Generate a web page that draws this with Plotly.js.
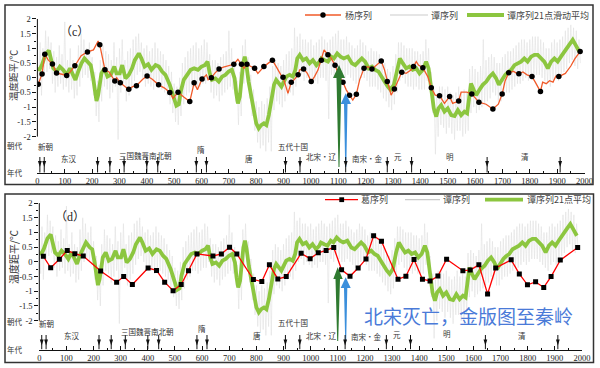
<!DOCTYPE html>
<html><head><meta charset="utf-8">
<script src="https://cdn.plot.ly/plotly-3.0.1.min.js"></script>
<style>html,body{margin:0;padding:0;background:#fff}#chart{width:600px;height:368px}</style>
</head><body><div id="chart"></div>
<script>
// ---------- data ----------
const yangLineX = [3,17,27,40,55,70,90,107,120,137,160,183,205,222,228,247,262,272,283,290,303,320,334,348,362,385,401,420,443,465,484,496,514,535,557,573,585,602,618,624,636,648,664,680,718,733,746,755,766,794,806,818,828,843,859,873,890,898,910,916,928,938,953,959,973,987,1001,1013,1026,1038,1048,1062,1074,1088,1101,1117,1129,1141,1153,1166,1178,1194,1208,1223,1238,1257,1269,1279,1293,1305,1319,1332,1348,1367,1375,1385,1393,1409,1427,1440,1454,1470,1488,1507,1518,1540,1549,1570,1588,1614,1640,1665,1685,1699,1710,1723,1740,1752,1760,1775,1790,1808,1820,1839,1847,1860,1872,1885,1895,1906,1930,1950,1965,1984];
const yangLineY = [-0.22,0.13,0.8,0.6,0.47,0.16,0.12,0.08,0.2,0.41,0.75,0.88,0.95,1.25,1.12,0.27,0.2,0.05,-0.11,0.0,-0.17,-0.3,-0.39,-0.3,-0.27,-0.05,0.06,-0.05,-0.24,-0.35,-0.5,-0.7,-0.49,-0.65,-0.81,-0.17,-0.41,-0.04,0.1,-0.07,0.0,0.15,0.3,0.36,0.46,0.63,0.46,0.32,0.46,0.32,0.15,0.27,0.38,0.49,0.6,0.38,0.1,0.02,-0.3,-0.53,-0.15,-0.07,0.1,0.27,0.3,0.15,-0.13,0.04,0.27,0.6,0.95,0.78,0.66,0.43,0.1,-0.15,-0.41,-0.59,-0.76,-0.56,-0.07,0.32,0.38,0.3,0.43,0.57,0.27,-0.13,-0.59,-0.38,-0.07,0.19,0.15,0.27,0.38,0.55,0.43,0.34,0.04,-0.34,-0.59,-0.61,-0.87,-0.64,-0.87,-0.79,-0.49,-0.49,-0.55,-0.83,-0.9,-1.06,-0.9,-0.55,-0.1,0.17,0.22,0.15,0.14,0.2,0.1,0.04,-0.15,-0.47,-0.15,-0.2,-0.1,-0.15,0.05,0.04,0.15,0.4,0.65,0.89];
const yangX = [3,17,27,55,70,107,137,183,228,247,283,303,334,362,401,443,484,514,557,573,602,636,664,718,746,766,794,828,859,898,928,953,973,1001,1038,1062,1088,1117,1141,1166,1194,1223,1257,1279,1305,1332,1375,1409,1440,1470,1507,1540,1588,1614,1665,1699,1723,1760,1808,1839,1906,1984];
const yangY = [-0.22,0.13,0.8,0.47,0.16,0.08,0.41,0.88,1.12,0.27,-0.11,-0.17,-0.39,-0.27,0.06,-0.24,-0.5,-0.49,-0.81,-0.17,-0.04,0.0,0.3,0.46,0.46,0.46,0.32,0.38,0.6,0.02,-0.15,0.1,0.3,-0.13,0.6,0.78,0.43,-0.15,-0.59,-0.56,0.32,0.3,0.57,-0.13,-0.38,0.19,0.38,0.34,-0.34,-0.61,-0.64,-0.79,-0.55,-0.83,-1.06,-0.55,0.17,0.14,0.04,-0.47,0.04,0.89];
const geX = [15,42,74,103,131,162,226,285,311,343,401,432,462,493,523,550,581,640,671,701,728,789,820,848,879,910,965,998,1028,1057,1085,1114,1145,1175,1204,1232,1261,1322,1351,1381,1412,1440,1469,1501,1561,1588,1620,1652,1682,1739,1769,1799,1829,1859,1886,1920,1984];
const geY = [0.19,-0.2,0.09,0.39,0.28,0.2,-0.31,-0.69,-0.5,-0.77,-0.21,-0.29,-0.69,-0.98,-0.77,-0.3,0.27,0.2,0.27,0.5,0.27,-0.6,-0.67,-0.1,-0.58,-0.5,0.29,0.11,0.31,0.39,0.49,-0.27,-0.49,-0.21,0.1,0.89,0.7,-0.59,-0.49,0.08,-0.59,-0.65,-0.48,0.09,-0.3,-0.28,-0.1,-1.09,-0.21,0.07,-0.41,-0.78,-0.68,-0.87,-0.5,0.06,0.49];
const smoothX = [0,8,17,30,42,50,58,70,82,94,107,119,131,139,149,161,172,186,195,204,210,216,222,228,234,245,256,268,281,289,301,310,322,334,346,356,371,380,392,405,417,432,444,456,468,484,496,508,517,524,535,548,560,573,587,600,612,622,630,638,651,663,675,687,699,711,721,727,733,740,746,752,758,764,772,782,792,800,809,818,828,837,846,855,865,873,882,892,901,910,922,934,943,950,959,971,983,995,1007,1020,1032,1038,1050,1062,1074,1084,1096,1108,1120,1135,1150,1162,1174,1186,1198,1211,1223,1235,1247,1257,1269,1281,1291,1303,1315,1325,1336,1348,1360,1372,1385,1397,1409,1421,1430,1440,1449,1458,1466,1476,1488,1500,1513,1525,1537,1549,1561,1571,1579,1585,1595,1604,1616,1628,1641,1653,1665,1677,1687,1698,1710,1720,1732,1744,1756,1768,1780,1792,1805,1817,1829,1841,1853,1866,1878,1890,1902,1914,1926,1936,1944,1957,1965,1975,1981];
const smoothY = [0.3,0.28,0.45,0.8,0.93,0.65,0.32,0.21,0.38,0.27,0.1,0.32,0.04,-0.07,0.21,0.49,0.66,0.49,0.43,-0.02,-0.53,-0.79,-0.59,-0.13,0.15,0.32,0.04,0.1,0.38,0.15,0.15,0.43,-0.02,0.1,0.32,0.6,0.83,0.66,0.38,0.46,0.27,0.43,0.38,0.21,0.1,-0.24,-0.64,-0.95,-0.9,-0.47,-0.07,0.1,0.27,0.32,0.27,0.38,0.43,0.55,0.15,-0.07,-0.02,-0.13,0.04,0.1,0.21,0.27,-0.02,-0.53,-0.87,-0.64,-0.07,0.49,0.72,0.43,-0.13,-0.64,-1.15,-1.55,-1.72,-1.61,-1.55,-1.61,-1.27,-0.7,-0.24,-0.07,-0.19,-0.3,-0.13,0.04,0.1,0.04,0.27,0.66,0.78,0.6,0.66,0.49,0.6,0.43,0.55,0.66,0.6,0.55,0.72,0.66,0.83,0.72,0.66,0.72,0.49,0.43,0.55,0.66,0.55,0.32,0.38,0.27,0.21,0.04,-0.13,-0.3,-0.41,-0.24,0.32,0.66,0.49,0.32,0.38,0.27,0.32,0.15,0.27,0.55,0.32,-0.47,-1.04,-1.32,-1.04,-0.93,-1.15,-1.04,-1.27,-1.3,-1.1,-1.27,-1.15,-1.21,-0.59,-0.19,-0.41,-0.59,-0.41,-0.24,-0.13,0.04,0.15,-0.02,-0.24,-0.07,0.1,0.19,0.27,0.43,0.49,0.55,0.66,0.55,0.72,0.78,0.78,0.66,0.55,0.32,0.55,0.66,0.55,0.72,0.89,1.06,1.12,1.29,1.17,1.0,0.89];
// Tan series, one value every 5 years from year 0
const tanStart = 0, tanStep = 5;
const tanY = [
0.8,-0.4,1.2,-0.6,1.0,0.1,1.6,0.2,1.4,0.3,
1.2,-0.2,0.9,-0.5,0.7,-0.3,1.1,-0.2,0.8,-0.4,
1.9,-0.3,0.6,-0.5,1.0,-0.4,0.6,-0.7,0.5,-0.6,
1.1,-0.3,1.5,0.0,1.3,0.1,1.0,0.0,1.2,-0.1,
0.7,-0.6,0.2,-1.3,-0.1,-1.5,0.6,-0.8,1.1,-0.3,
0.9,-0.4,0.8,-0.7,0.6,-0.5,1.2,-0.3,0.7,-2.1,
1.0,-0.5,1.3,-0.2,0.6,-0.8,0.9,-0.6,1.0,-0.4,
1.3,-0.1,1.4,0.1,1.5,0.2,1.2,0.0,1.0,-0.3,
1.1,-0.2,0.9,-0.3,1.0,-0.4,1.2,-0.2,1.0,-0.3,
0.9,-0.4,0.8,-0.5,0.6,-0.6,0.4,-0.9,0.2,-1.2,
-0.2,-1.5,-0.3,-1.6,0.0,-1.3,0.5,-0.9,0.7,-0.6,
0.9,-0.5,1.0,-0.3,1.1,-0.3,1.2,-0.4,1.0,-0.3,
1.1,-0.2,1.3,-0.2,1.2,0.0,0.8,-0.5,0.6,-0.7,
0.6,-0.6,0.5,-0.8,0.7,-0.6,0.8,-0.5,0.9,-0.4,
1.6,-0.3,1.0,-0.4,0.5,-0.8,-0.1,-1.6,0.2,-1.3,
1.1,-0.2,1.3,0.0,0.7,-0.7,0.1,-1.3,-0.4,-1.8,
-0.8,-2.2,-1.0,-2.4,-0.8,-2.3,-0.9,-2.5,-0.7,-2.2,
-0.3,-2.5,0.4,-1.1,0.6,-0.8,0.5,-0.9,0.4,-1.0,
0.6,-0.8,0.8,-0.6,0.9,-0.5,1.0,-0.6,1.7,-0.3,
1.4,0.0,1.5,0.1,1.3,-0.1,1.3,0.0,1.2,-0.1,
1.3,-0.2,1.1,-0.1,1.2,-0.2,1.3,0.0,1.4,0.0,
1.3,-0.1,1.2,-1.4,1.3,0.1,1.4,0.0,1.5,0.2,
1.6,0.1,1.3,0.0,1.3,0.0,1.4,0.1,1.2,0.0,
1.1,-0.1,1.0,-0.2,1.1,-0.1,1.3,0.0,1.2,0.0,
1.1,-0.1,0.9,-0.3,1.0,-0.3,0.9,-0.3,0.9,-0.4,
0.8,-0.5,0.6,-0.7,0.5,-0.8,0.3,-1.0,0.2,-1.1,
0.4,-0.9,0.8,-0.5,1.2,-0.1,1.2,0.0,1.1,-0.2,
1.0,-0.3,1.0,-0.3,1.0,-0.4,0.9,-0.3,0.9,-0.4,
0.8,-0.4,0.9,-0.4,1.3,-0.1,1.0,-0.4,0.2,-1.2,
-0.4,-2.6,-0.6,-2.0,-0.3,-1.6,-0.3,-1.7,-0.4,-1.9,
-0.3,-1.7,-0.5,-1.9,-0.6,-2.1,-0.5,-1.8,-0.3,-1.8,
-0.5,-2.0,-0.4,-1.9,-0.5,-1.8,0.3,-1.2,0.4,-1.0,
0.3,-1.2,0.2,-1.1,0.4,-1.0,1.3,-0.9,0.6,-0.8,
0.7,-0.7,0.8,-0.5,0.7,-0.6,0.5,-0.8,0.5,-0.8,
0.7,-0.6,0.8,-0.5,0.9,-0.5,0.9,-0.4,1.0,-0.3,
1.1,-0.2,1.2,-0.2,1.3,-0.1,1.3,0.0,1.2,-0.1,
1.3,0.0,1.4,0.1,1.4,0.1,1.4,0.1,1.3,0.0,
1.2,-0.1,1.0,-0.2,1.0,-0.3,1.2,-0.1,1.3,0.0,
1.2,-0.1,1.3,0.0,1.4,0.2,1.6,0.3,1.7,0.5,
1.8,0.6,1.7,0.4,1.6,0.3,1.3,0.5];
const tanX = tanY.map((_, i) => tanStart + i * tanStep);

const boundaryYears = [9,25,220,265,317,400,440,581,618,907,960,1127,1279,1368,1644,1911];
const dynastyNames = ['新朝','东汉','三国魏晋南北朝','隋','唐','五代十国','北宋·辽','南宋·金','元','明','清'];
const yearTicks = [0,100,200,300,400,500,600,700,800,900,1000,1100,1200,1300,1400,1500,1600,1700,1800,1900,2000];
const yearMinor = [50,150,250,350,450,550,650,750,850,950,1050,1150,1250,1350,1450,1550,1650,1750,1850,1950];
const tempTicks = [-2,-1.5,-1,-0.5,0,0.5,1,1.5,2];
const tempTickText = ['-2','-1.5','-1','-0.5','0','0.5','1','1.5','2'];
const tempMinor = [-1.75,-1.25,-0.75,-0.25,0.25,0.75,1.25,1.75];

// ---------- layout helpers ----------
const W = 600, H = 368;
const px = v => v / W, py = v => 1 - v / H;
const CJK = 'Noto Sans CJK SC';
const SERIF = 'Liberation Serif';

function xAxis(l, r, pos) {
  return {domain:[px(l), px(r)], range:[0,2000], anchor:'free', position:py(pos),
    showline:true, linecolor:'#111', linewidth:1, ticks:'inside', ticklen:4, tickwidth:1, tickcolor:'#111',
    tickmode:'array', tickvals:yearTicks, ticktext:yearTicks.map(String),
    tickfont:{family:SERIF, size:8.5, color:'#222'},
    minor:{tickmode:'array', tickvals:yearMinor, ticks:'inside', ticklen:2, tickwidth:1, tickcolor:'#111'},
    showgrid:false, zeroline:false, fixedrange:true};
}
function yAxis(top, bot, xa) {
  return {domain:[py(bot), py(top)], range:[-2.8,2.2], anchor:xa, showline:false,
    ticks:'outside', ticklen:4, tickwidth:1, tickcolor:'#111',
    tickmode:'array', tickvals:tempTicks, ticktext:tempTickText,
    tickfont:{family:SERIF, size:8.5, color:'#222'},
    minor:{tickmode:'array', tickvals:tempMinor, ticks:'outside', ticklen:2, tickwidth:1, tickcolor:'#111'},
    showgrid:false, zeroline:false, fixedrange:true};
}
function T(text, x, y, size, opt) {
  return Object.assign({text:text, xref:'paper', yref:'paper', x:px(x), y:py(y), xanchor:'center', yanchor:'middle',
    showarrow:false, font:{family:CJK, size:size||7.5, color:'#333'}}, opt||{});
}
function L(x0,y0,x1,y1,color,width) {
  return {type:'line', xref:'paper', yref:'paper', x0:px(x0), y0:py(y0), x1:px(x1), y1:py(y1), line:{color:color, width:width}};
}
function P(pts, color) {
  const d = pts.map((p,i)=>(i?'L':'M')+px(p[0]).toFixed(5)+','+py(p[1]).toFixed(5)).join(' ')+' Z';
  return {type:'path', xref:'paper', yref:'paper', path:d, fillcolor:color, line:{width:0}};
}
function dynArrows(xref, y0, yHead, yTip, y1) {
  const out = [];
  boundaryYears.forEach(yr => {
    out.push({type:'line', xref:xref, yref:'paper', x0:yr, x1:yr, y0:py(y0), y1:py(y1), line:{color:'#111', width:1}});
    out.push({type:'path', xref:xref, yref:'paper', path:`M ${yr-7},${py(yHead)} L ${yr+7},${py(yHead)} L ${yr},${py(yTip)} Z`, fillcolor:'#111', line:{width:0}});
  });
  return out;
}

const GRAY = '#e0e0e0', GREEN = '#8cc63f';
const data = [
  {x:tanX, y:tanY, xaxis:'x', yaxis:'y', mode:'lines', line:{color:GRAY, width:0.6}},
  {x:smoothX, y:smoothY, xaxis:'x', yaxis:'y', mode:'lines', line:{color:GREEN, width:3.8}},
  {x:yangLineX, y:yangLineY, xaxis:'x', yaxis:'y', mode:'lines', line:{color:'#f15a29', width:1.3}},
  {x:yangX, y:yangY, xaxis:'x', yaxis:'y', mode:'markers', marker:{color:'#000', size:5.5, symbol:'circle'}},
  {x:tanX, y:tanY, xaxis:'x2', yaxis:'y2', mode:'lines', line:{color:GRAY, width:0.6}},
  {x:smoothX, y:smoothY, xaxis:'x2', yaxis:'y2', mode:'lines', line:{color:GREEN, width:3.8}},
  {x:geX, y:geY, xaxis:'x2', yaxis:'y2', mode:'lines+markers', line:{color:'#ff0000', width:1.3}, marker:{color:'#000', size:5, symbol:'square'}}
];

const shapes = [
  {type:'rect', xref:'paper', yref:'paper', x0:px(5), x1:px(593), y0:py(184.5), y1:py(5), line:{color:'#333', width:1.5}},
  {type:'rect', xref:'paper', yref:'paper', x0:px(5), x1:px(593.5), y0:py(362.5), y1:py(194), line:{color:'#333', width:1.5}},
  {type:'line', xref:'x domain', yref:'y', x0:0, x1:0, y0:-2, y1:2, line:{color:'#111', width:1}},
  {type:'line', xref:'x2 domain', yref:'y2', x0:0, x1:0, y0:-2, y1:2, line:{color:'#111', width:1}},
  L(305,15,341,15,'#f15a29',1.3),
  {type:'circle', xref:'paper', yref:'paper', x0:px(320.3), x1:px(325.7), y0:py(17.7), y1:py(12.3), fillcolor:'#000', line:{width:0}},
  L(390,15,428,15,'#cccccc',1.2),
  L(467,15,504,15,GREEN,3.8),
  L(325,199.7,358,199.7,'#ff0000',1.3),
  {type:'rect', xref:'paper', yref:'paper', x0:px(339.3), x1:px(344.1), y0:py(202.1), y1:py(197.3), fillcolor:'#000', line:{width:0}},
  L(405,199.7,440,199.7,'#cccccc',1.2),
  L(485,199.7,523,199.7,GREEN,3.8),
  P([[339,65],[345,78],[341.5,78],[339.5,167],[338.5,167],[336.5,78],[333,78]], '#2f7a30'),
  P([[345.7,93.3],[351,104],[347.5,104],[346.3,167],[345.2,167],[344,104],[340.7,104]], '#3b8fdc'),
  P([[337.7,267.3],[342.7,279],[340,279],[338.2,341],[337.2,341],[335.5,279],[333.3,279]], '#2f7a30'),
  P([[345.7,277.3],[350.7,288],[347.3,288],[346.2,341],[345.2,341],[344,288],[340.7,288]], '#3b8fdc')
].concat(dynArrows('x', 157, 161, 167, 172.5), dynArrows('x2', 335, 339.5, 345.5, 349.2));

const dynTopPos = [[45,146],[69,158],[145,155],[201,150],[249,158],[293,146],[321,157],[367,158],[398,156],[450,156],[525,157]];
const dynBotPos = [[46,323],[72,335],[147,331.5],[202,328],[257,335],[293,322],[321,335.5],[366,336],[397,334],[447,333],[522,335.5]];

const annotations = [
  T('（c）', 74, 32, 12, {font:{family:SERIF+','+CJK, size:12, color:'#222'}}),
  T('温度距平/℃', 13, 75, 9.5, {textangle:-90, font:{family:CJK, size:9.5, color:'#333'}}),
  T('朝代', 15, 145), T('年代', 15, 172.5),
  T('（d）', 70, 217, 12, {font:{family:SERIF+','+CJK, size:12, color:'#222'}}),
  T('温度距平/℃', 13, 257, 10, {textangle:-90, font:{family:CJK, size:10, color:'#333'}}),
  T('朝代', 15, 321), T('年代', 15, 349.5),
  T('杨序列', 343, 15, 9, {xanchor:'left', font:{family:CJK, size:9, color:'#444'}}),
  T('谭序列', 429, 15, 9, {xanchor:'left', font:{family:CJK, size:9, color:'#444'}}),
  T('谭序列21点滑动平均', 505, 15, 9, {xanchor:'left', font:{family:CJK, size:9, color:'#444'}}),
  T('葛序列', 359, 199.7, 9, {xanchor:'left', font:{family:CJK, size:9, color:'#444'}}),
  T('谭序列', 441, 199.7, 9, {xanchor:'left', font:{family:CJK, size:9, color:'#444'}}),
  T('谭序列21点平均', 525, 199.7, 9, {xanchor:'left', font:{family:CJK, size:9, color:'#444'}}),
  T('北宋灭亡，金版图至秦岭', 468, 315, 19, {font:{family:CJK, size:19, color:'#4a7ad8'}})
].concat(dynastyNames.map((n,i)=>T(n, dynTopPos[i][0], dynTopPos[i][1])),
         dynastyNames.map((n,i)=>T(n, dynBotPos[i][0], dynBotPos[i][1])));

const layout = {
  width:W, height:H, autosize:false, margin:{l:0,r:0,t:0,b:0},
  paper_bgcolor:'#fff', plot_bgcolor:'rgba(0,0,0,0)', showlegend:false, hovermode:false,
  xaxis:xAxis(37.4, 584.5, 173), yaxis:yAxis(13.1, 160.1, 'x'),
  xaxis2:xAxis(39.3, 582, 349.5), yaxis2:yAxis(197.2, 344.2, 'x2'),
  shapes:shapes, annotations:annotations
};
Plotly.newPlot('chart', data, layout, {staticPlot:true, displayModeBar:false});
</script>
</body></html>
